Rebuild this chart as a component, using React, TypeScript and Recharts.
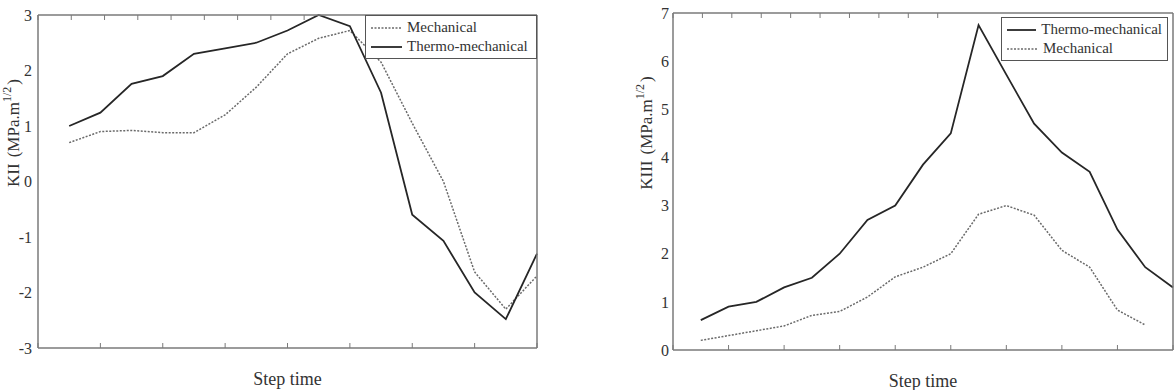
import React from "react";
import { LineChart, Line, XAxis, YAxis, Legend } from "recharts";

const FONT = "'Liberation Serif', 'Times New Roman', serif";
const AXIS = "#7a7a7a";
const TEXT = "#333";

// left panel: KII
const kiiSteps = [0.5, 1, 1.5, 2, 2.5, 3, 3.5, 4, 4.5, 5, 5.5, 6, 6.5, 7, 7.5, 8];
const kiiMech = [0.7, 0.9, 0.92, 0.88, 0.88, 1.2, 1.7, 2.3, 2.58, 2.72, 2.15, 1.05, 0.0, -1.63, -2.3, -1.7];
const kiiThermo = [1.0, 1.24, 1.76, 1.9, 2.3, 2.4, 2.5, 2.72, 3.0, 2.8, 1.6, -0.6, -1.07, -2.0, -2.48, -1.3];
const kiiTicksX = [0, 1, 2, 3, 4, 5, 6, 7, 8];
const kiiTicksY = [-3, -2, -1, 0, 1, 2, 3];
const kiiLegendOrder = ["mech", "thermo"];

// right panel: KIII
const kiiiSteps = [0.5, 1, 1.5, 2, 2.5, 3, 3.5, 4, 4.5, 5, 5.5, 6, 6.5, 7, 7.5, 8, 8.5, 9];
const kiiiThermo = [0.62, 0.9, 1.0, 1.3, 1.5, 2.0, 2.7, 3.0, 3.85, 4.5, 6.75, 5.72, 4.7, 4.1, 3.7, 2.5, 1.72, 1.3];
const kiiiMech = [0.2, 0.3, 0.4, 0.5, 0.72, 0.8, 1.1, 1.52, 1.72, 2.0, 2.82, 3.0, 2.8, 2.07, 1.72, 0.83, 0.52, null];
const kiiiTicksX = [0, 1, 2, 3, 4, 5, 6, 7, 8, 9];
const kiiiTicksY = [0, 1, 2, 3, 4, 5, 6, 7];
const kiiiLegendOrder = ["thermo", "mech"];

const kiiData = kiiSteps.map((s, i) => ({ step: s, mech: kiiMech[i], thermo: kiiThermo[i] }));
const kiiiData = kiiiSteps.map((s, i) => ({ step: s, mech: kiiiMech[i], thermo: kiiiThermo[i] }));

const lineStyle: Record<string, { stroke: string; width: number; dash?: string }> = {
  mech: { stroke: "#6a6a6a", width: 1.5, dash: "2 1.5" },
  thermo: { stroke: "#262626", width: 1.8 },
};

function BoxLegend({ payload, width, order }: any) {
  const items = [...(payload || [])].sort(
    (a: any, b: any) => order.indexOf(a.dataKey) - order.indexOf(b.dataKey)
  );
  return (
    <div
      style={{
        width,
        boxSizing: "border-box",
        border: "1px solid #555",
        background: "#fff",
        padding: "2px 5px",
        fontFamily: FONT,
        fontSize: 15,
        color: TEXT,
        lineHeight: "19px",
      }}
    >
      {items.map((p: any) => {
        const st = lineStyle[p.dataKey];
        return (
          <div key={p.dataKey} style={{ display: "flex", alignItems: "center", whiteSpace: "nowrap" }}>
            <svg width={31} height={8} style={{ marginRight: 5 }}>
              <line x1={0} y1={4} x2={31} y2={4} stroke={st.stroke} strokeWidth={st.width} strokeDasharray={st.dash} />
            </svg>
            <span>{p.value}</span>
          </div>
        );
      })}
    </div>
  );
}

function YTitle({ x, y, name }: { x: number; y: number; name: string }) {
  return (
    <text
      x={x}
      y={y}
      transform={`rotate(-90, ${x}, ${y})`}
      textAnchor="middle"
      fontFamily={FONT}
      fontSize={17}
      fill={TEXT}
    >
      <tspan>{name}</tspan>
      <tspan dx={6}>(MPa.m</tspan>
      <tspan dy={-8} fontSize={12}>1/2</tspan>
      <tspan dy={8} dx={2}>)</tspan>
    </text>
  );
}

const tickStyle = { fontFamily: FONT, fontSize: 16, fill: TEXT };
const axisLine = { stroke: AXIS, strokeWidth: 1.5 };
const tickLine = { stroke: AXIS, strokeWidth: 1 };
const titleStyle = { fontFamily: FONT, fontSize: 18, fill: TEXT };
const noLabel = () => <g />;

// frame axes: inward ticks drawn through mirror, labels suppressed
function frameAxes(ticksX: number[], ticksY: number[], domX: [number, number], domY: [number, number]) {
  return [
    <XAxis
      key="xb"
      dataKey="step"
      type="number"
      domain={domX}
      ticks={ticksX}
      mirror
      tick={noLabel}
      tickSize={5}
      height={1}
      axisLine={axisLine}
      tickLine={tickLine}
      label={{ value: "Step time", position: "bottom", offset: 24, style: titleStyle }}
    />,
    <XAxis
      key="xt"
      xAxisId="top"
      orientation="top"
      type="number"
      domain={domX}
      ticks={ticksX}
      mirror
      tick={noLabel}
      tickSize={5}
      height={1}
      axisLine={axisLine}
      tickLine={tickLine}
    />,
    <YAxis
      key="yr"
      yAxisId="right"
      orientation="right"
      type="number"
      domain={domY}
      ticks={ticksY}
      mirror
      width={1}
      tick={noLabel}
      tickSize={5}
      axisLine={axisLine}
      tickLine={tickLine}
    />,
    <YAxis
      key="yli"
      yAxisId="leftTicks"
      type="number"
      domain={domY}
      ticks={ticksY}
      mirror
      width={1}
      tick={noLabel}
      tickSize={5}
      axisLine={false}
      tickLine={tickLine}
    />,
  ];
}

export default function App() {
  return (
    <div style={{ position: "absolute", left: 0, top: 0, width: 1174, height: 390, background: "#fff" }}>
      <div style={{ position: "absolute", left: 0, top: 0 }}>
        <LineChart width={560} height={390} data={kiiData} margin={{ top: 15, right: 23, bottom: 42, left: 0 }}>
          {frameAxes(kiiTicksX, kiiTicksY, [0, 8], [-3, 3])}
          <YAxis
            type="number"
            domain={[-3, 3]}
            ticks={kiiTicksY}
            width={38}
            tickSize={0}
            tickMargin={6}
            tick={tickStyle}
            axisLine={axisLine}
            tickLine={false}
            label={{ content: () => <YTitle x={19} y={133} name="KII" /> }}
          />
          <Legend
            layout="vertical"
            align="center"
            verticalAlign="middle"
            wrapperStyle={{ left: 365, top: 15, width: 172 }}
            content={(props: any) => <BoxLegend {...props} width={172} order={kiiLegendOrder} />}
          />
          <Line
            dataKey="mech"
            name="Mechanical"
            stroke={lineStyle.mech.stroke}
            strokeWidth={lineStyle.mech.width}
            strokeDasharray={lineStyle.mech.dash}
            dot={false}
            activeDot={false}
            isAnimationActive={false}
          />
          <Line
            dataKey="thermo"
            name="Thermo-mechanical"
            stroke={lineStyle.thermo.stroke}
            strokeWidth={lineStyle.thermo.width}
            dot={false}
            activeDot={false}
            isAnimationActive={false}
          />
        </LineChart>
      </div>

      <div style={{ position: "absolute", left: 630, top: 0 }}>
        <LineChart width={544} height={390} data={kiiiData} margin={{ top: 13, right: 1, bottom: 40, left: 0 }}>
          {frameAxes(kiiiTicksX, kiiiTicksY, [0, 9], [0, 7])}
          <YAxis
            type="number"
            domain={[0, 7]}
            ticks={kiiiTicksY}
            width={43}
            tickSize={0}
            tickMargin={4}
            tick={tickStyle}
            axisLine={axisLine}
            tickLine={false}
            label={{ content: () => <YTitle x={22} y={133} name="KIII" /> }}
          />
          <Legend
            layout="vertical"
            align="center"
            verticalAlign="middle"
            wrapperStyle={{ left: 371, top: 17, width: 167 }}
            content={(props: any) => <BoxLegend {...props} width={167} order={kiiiLegendOrder} />}
          />
          <Line
            dataKey="thermo"
            name="Thermo-mechanical"
            stroke={lineStyle.thermo.stroke}
            strokeWidth={lineStyle.thermo.width}
            dot={false}
            activeDot={false}
            isAnimationActive={false}
          />
          <Line
            dataKey="mech"
            name="Mechanical"
            stroke={lineStyle.mech.stroke}
            strokeWidth={lineStyle.mech.width}
            strokeDasharray={lineStyle.mech.dash}
            dot={false}
            activeDot={false}
            isAnimationActive={false}
          />
        </LineChart>
      </div>
    </div>
  );
}
